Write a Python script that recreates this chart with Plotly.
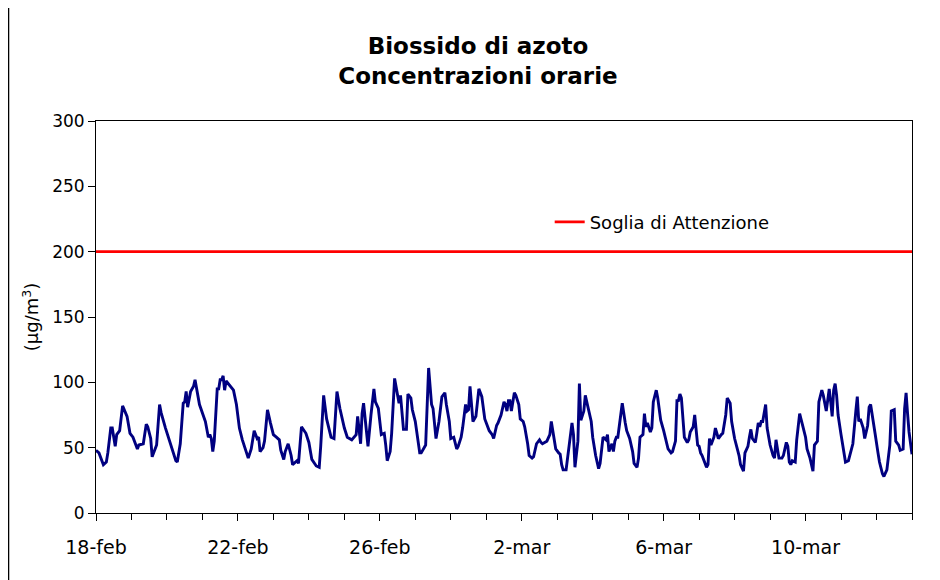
import pandas as pd
import plotly.graph_objects as go

# ore dall'inizio del periodo (18-feb 00:00) e concentrazioni orarie NO2 (ug/m3)
ore = [0, 2, 5, 7, 8, 10, 11, 13, 14, 16, 18, 21, 23, 25, 28, 29, 32, 34, 35, 37, 38, 40, 41, 43, 44, 47, 50, 54, 55, 57,
       59, 60, 61, 62, 64, 66, 67, 68, 70, 74, 76, 77, 78, 79, 80, 82, 83, 84, 85, 86, 87, 88, 91, 93, 95,
       97, 99, 102, 103, 105, 107, 109, 110, 111, 113, 114, 116, 118, 120, 122, 124, 125, 127, 128, 130, 132, 133, 136, 137,
       139, 142, 144, 146, 149, 151, 152, 154, 156, 159, 161, 163, 165, 168, 170, 173, 176, 177, 179, 180, 181, 183, 184,
       186, 188, 189, 191,
       193, 195, 196, 197, 199, 200, 202, 204, 205, 206, 207, 208, 210, 211, 213, 214, 216, 218, 219, 220, 223, 225, 227,
       228, 230, 232, 234, 236, 237, 239, 240, 242, 244, 245, 247, 248, 250, 251, 252, 253, 254, 255, 257, 259, 261, 263,
       266, 268, 269, 271, 272, 274, 276, 277, 278, 279, 280, 281, 283, 284, 286, 287,
       289, 290, 292, 293, 295, 296, 298, 300, 301, 302, 305, 307, 308, 309, 311, 313, 314, 315, 316, 318, 320, 322, 323,
       324, 326, 327, 328, 330, 331, 333, 335, 336, 338, 340, 341, 343, 345, 346, 347, 349, 350, 351, 352, 353, 355, 356,
       358, 359, 361, 363, 364, 366, 367, 368, 370, 371, 372, 373, 375, 376, 377, 379, 380,
       382, 384, 386, 387, 389, 390, 392, 393, 394, 395, 396, 397, 398, 400, 401, 402, 404, 405, 406, 407, 408, 409, 410,
       412, 413, 414, 415, 416, 418, 419, 421, 423, 424, 426, 427, 429, 430, 432, 435, 436, 438, 439, 441, 442, 443, 444,
       446, 447, 448, 449, 450, 451, 453, 454, 455, 456, 458, 459, 460, 461, 462, 464, 465, 467, 468, 469, 470, 471, 473, 474,
       476, 478, 480, 481, 483, 485, 486, 488, 489, 491, 492, 494, 495, 496, 497, 498, 499, 500, 501, 502, 504, 506, 507,
       509, 510, 512, 514, 515, 516, 517, 519, 520, 522, 523, 524, 526, 527, 529, 530, 532, 533, 535, 537, 538, 540, 541,
       543, 544, 546, 547, 548, 549, 550, 552]

valori = [48, 46, 37, 39, 46, 65, 65, 51, 60, 63, 82, 74, 61, 58, 49, 52, 53, 68, 66, 57, 43, 49, 52, 83, 77, 65, 55, 40, 39, 53,
          84, 85, 93, 81, 93, 97, 102, 95, 83, 70, 58, 60, 57, 47, 55, 95, 95, 102, 102, 105, 94, 101, 97, 94, 83,
          65, 56, 44, 42, 49, 63, 57, 58, 47, 50, 55, 79, 69, 60, 58, 56, 48, 41, 47, 53, 44, 37, 40, 38,
          66, 61, 54, 41, 36, 35, 51, 90, 72, 58, 57, 93, 80, 65, 58, 56, 60, 74, 53, 76, 84, 65, 51,
          75, 95, 85, 80,
          60, 61, 52, 40, 47, 61, 103, 90, 84, 90, 78, 64, 64, 91, 88, 79, 70, 55, 46, 46, 52, 111, 83,
          80, 57, 70, 89, 92, 83, 70, 57, 58, 49, 51, 58, 65, 83, 78, 79, 97, 80, 70, 74, 95, 89, 72,
          63, 60, 57, 67, 69, 75, 85, 83, 78, 86, 86, 78, 92, 90, 83, 72,
          70, 66, 53, 44, 42, 43, 53, 56, 54, 53, 55, 60, 70, 63, 49, 46, 45, 37, 33, 33, 49, 69, 60,
          35, 55, 99, 71, 78, 90, 80, 70, 58, 44, 34, 38, 58, 56, 60, 47, 53, 47, 55, 58, 58, 76, 84,
          69, 63, 57, 47, 38, 35, 42, 58, 60, 76, 66, 69, 62, 65, 85, 94, 88,
          71, 63, 53, 49, 46, 47, 55, 86, 86, 91, 88, 71, 58, 54, 56, 62, 66, 75, 62, 52, 51, 46, 44,
          37, 35, 37, 57, 52, 58, 65, 57, 60, 61, 75, 88, 84, 70, 57, 44, 37, 32, 46, 51, 58, 64, 57,
          54, 61, 69, 66, 70, 70, 83, 65, 57, 52, 44, 42, 56, 47, 42, 42, 44, 54, 51, 39, 37, 40, 39, 56,
          76, 67, 58, 49, 42, 32, 52, 55, 85, 94, 90, 78, 85, 95, 85, 74, 94, 99, 90, 75, 60, 47, 39,
          40, 44, 53, 78, 89, 70, 72, 65, 57, 67, 81, 83, 70, 61, 46, 39, 30, 28, 33, 52, 78, 79, 55,
          52, 48, 49, 80, 92, 76, 62, 45]

soglia = 200
inizio = "2005-02-18"
fine = "2005-03-13"
tick_date = ["2005-02-18", "2005-02-22", "2005-02-26", "2005-03-02", "2005-03-06", "2005-03-10"]
tick_etichette = ["18-feb", "22-feb", "26-feb", "2-mar", "6-mar", "10-mar"]

date = pd.Timestamp(inizio) + pd.to_timedelta(ore, unit="h")

FONT = "DejaVu Sans"

fig = go.Figure()
fig.add_trace(go.Scatter(x=date, y=valori, mode="lines", line=dict(color="#000080", width=2.9),
                         showlegend=False, name="NO2"))
fig.add_trace(go.Scatter(x=[inizio, fine], y=[soglia, soglia], mode="lines",
                         line=dict(color="#ff0000", width=2.7), name="Soglia di Attenzione"))

fig.update_layout(
    width=940, height=580,
    margin=dict(l=88, r=36, t=113, b=75),
    paper_bgcolor="white", plot_bgcolor="white",
    font=dict(family=FONT, size=17, color="black"),
    title=dict(text="<b>Biossido di azoto<br>Concentrazioni orarie</b>", x=0.5, xanchor="center",
               y=0.92, yanchor="top", font=dict(size=23)),
    legend=dict(x=0.556, y=0.742, xanchor="left", yanchor="middle",
                bgcolor="rgba(0,0,0,0)", font=dict(size=18)),
    # bordo esterno del grafico (lato sinistro visibile)
    shapes=[dict(type="line", xref="paper", yref="paper", x0=-0.1072, x1=-0.1072, y0=-0.3, y1=1.4,
                 line=dict(color="black", width=1.5))],
)
fig.update_xaxes(range=[inizio, fine], tickvals=tick_date, ticktext=tick_etichette,
                 ticks="outside", ticklen=7, tickcolor="black", showgrid=False, tickfont=dict(size=19),
                 ticklabelstandoff=10,
                 showline=True, linecolor="black", linewidth=1, mirror=True,
                 minor=dict(dtick=86400000, ticks="outside", ticklen=6, tickcolor="black", showgrid=False))
fig.update_yaxes(range=[0, 300], dtick=50, ticks="outside", ticklen=7, tickcolor="black", showgrid=False,
                 showline=True, linecolor="black", linewidth=1, mirror=True, zeroline=False,
                 tickfont=dict(size=17),
                 title=dict(text="(µg/m<sup>3</sup>)", standoff=8, font=dict(size=18)))

fig.write_html("out.html")
